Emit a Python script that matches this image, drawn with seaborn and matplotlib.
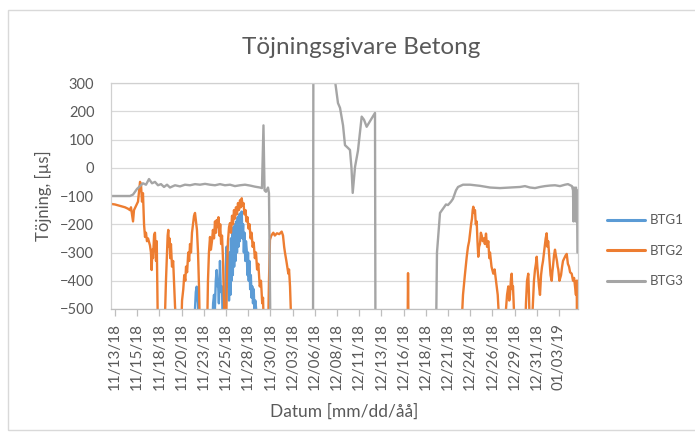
import numpy as np
import pandas as pd
import matplotlib
matplotlib.use("Agg")
import matplotlib.pyplot as plt
from matplotlib.patches import Rectangle
import seaborn as sns

# Measurement start and elapsed time (days) for each strain gauge
start = pd.Timestamp("2018-11-13")

btg1_day = [8.45, 8.78, 9.01, 9.10, 9.20, 9.28, 9.35, 9.46, 10.92, 11.05, 11.15, 11.25,
            11.35, 11.45, 11.55, 11.60, 11.70, 11.82, 11.92, 12.05, 12.16, 12.39, 12.48,
            12.58, 12.66, 12.75, 12.84, 12.92, 13.00, 13.06, 13.13, 13.20, 13.27, 13.34,
            13.42, 13.50, 13.58, 13.66, 13.74, 13.82, 13.90, 13.98, 14.06, 14.14, 14.22,
            14.27, 14.35, 14.43, 14.51, 14.59, 14.67, 14.75, 14.83, 14.91, 14.98, 15.06,
            15.14, 15.22, 15.30, 15.38, 15.46, 15.54, 15.62, 15.70, 15.80, 15.96, 16.10]
btg1_val = [-600, -600, -500, -440, -421, -460, -480, -600, -600, -480, -450, -500,
            -400, -362, -420, -400, -480, -330, -440, -420, -600, -500, -350,
            -279, -420, -320, -470, -300, -450, -250, -400, -230, -380, -210,
            -350, -200, -330, -190, -300, -175, -280, -165, -260, -160, -230,
            -155, -250, -200, -300, -230, -330, -260, -290, -380, -300, -400,
            -330, -430, -380, -460, -420, -480, -430, -500, -470, -520, -600]

btg2_day = [-0.45, 0.00, 0.56, 1.13, 1.46, 1.69, 1.80, 2.03, 2.14, 2.36, 2.59, 2.82, 2.93,
            3.04, 3.15, 3.27, 3.38, 3.49, 3.60, 3.72, 3.94, 4.05, 4.13, 4.20, 4.28, 4.40,
            4.50, 4.56, 4.62, 4.70, 4.84, 5.07,
            5.52, 5.63, 5.74, 5.86, 5.93, 6.00, 6.08, 6.14, 6.22, 6.30, 6.42, 6.55, 6.76,
            6.98, 7.32,
            7.43, 7.55, 7.69, 7.80, 7.92, 8.00, 8.12, 8.25, 8.35, 8.45, 8.56, 8.67, 8.78,
            8.90, 9.01, 9.12, 9.23, 9.35, 9.46, 9.57, 10.14,
            10.36, 10.47, 10.58, 10.70, 10.80, 10.92, 11.03, 11.15, 11.26, 11.37, 11.45,
            11.55, 11.65, 11.75, 11.85, 11.95, 12.05, 12.16, 12.25, 12.39,
            12.50, 12.61, 12.72, 12.84, 12.95, 13.06, 13.18, 13.29, 13.40, 13.51, 13.62,
            13.74, 13.85, 13.96, 14.08, 14.17, 14.27, 14.37, 14.47, 14.58, 14.70, 14.80,
            14.92, 15.03, 15.15, 15.27, 15.38, 15.50, 15.62, 15.75, 15.88, 16.00, 16.14,
            16.30, 16.44, 16.58, 16.67, 16.78, 17.23, 17.34, 17.45, 17.60, 17.83, 18.00,
            18.24, 18.50, 18.77, 18.92, 19.05, 19.14, 19.30, 19.52, 19.60, 19.71, 19.90,
            32.94, 33.00, 33.06,
            38.96, 39.19, 39.40, 39.61, 39.75, 39.88, 39.98, 40.10, 40.20, 40.28, 40.35,
            40.45, 40.54, 40.63, 40.73, 40.82, 40.91, 41.00, 41.10, 41.20, 41.30, 41.40,
            41.55, 41.65, 41.78, 41.90, 42.04, 42.15, 42.23, 42.40, 42.60, 42.75, 42.91,
            43.10, 43.36,
            43.92, 44.03, 44.15, 44.29, 44.40, 44.48, 44.60, 44.67, 44.75, 44.82, 45.05,
            46.17, 46.28, 46.40, 46.54, 46.62, 46.73, 46.96, 47.10, 47.18, 47.30, 47.40,
            47.49, 47.56, 47.64, 47.75, 47.86, 47.98, 48.09, 48.20, 48.31, 48.42, 48.50,
            48.61, 48.70, 48.78, 48.87, 48.95, 49.05, 49.18, 49.25, 49.32, 49.44, 49.55,
            49.65, 49.77, 49.85, 49.92, 50.05, 50.23, 50.35, 50.45, 50.60, 50.75, 50.87,
            51.00, 51.13, 51.25, 51.43, 51.58, 51.70, 51.80, 51.91, 51.97, 52.03, 52.08,
            52.14]
btg2_val = [-128, -130, -135, -140, -145, -150, -140, -190, -150, -135, -120, -50, -60,
            -120, -90, -200, -245, -230, -260, -250, -275, -300, -362, -290, -320, -240,
            -230, -280, -330, -260, -600, -600,
            -600, -520, -400, -300, -240, -220, -280, -250, -320, -270, -350, -330, -490,
            -600, -600,
            -600, -470, -430, -380, -400, -350, -370, -300, -330, -270, -300, -230, -200,
            -170, -160, -190, -220, -300, -420, -600, -600,
            -600, -400, -300, -245, -290, -260, -220, -250, -190, -230, -185,
            -210, -175, -240, -200, -270, -240, -320, -450, -600,
            -600, -380, -260, -210, -196, -230, -170, -200, -150, -180, -140,
            -165, -125, -150, -115, -140, -108, -135, -125, -165, -150, -190,
            -175, -215, -200, -250, -230, -280, -265, -320, -300, -360, -340,
            -420, -400, -480, -460, -600, -600, -400, -255, -240, -230, -240,
            -232, -235, -226, -240, -280, -300, -330, -375, -360, -420, -600,
            -600, -373, -600,
            -600, -450, -380, -315, -280, -260, -232, -200, -180, -150, -138,
            -160, -150, -200, -190, -260, -315, -280, -270, -230, -240, -260,
            -250, -270, -233, -280, -260, -320, -300, -350, -375, -360, -400,
            -450, -600,
            -600, -500, -450, -420, -470, -450, -390, -375, -430, -420, -600,
            -600, -480, -400, -375, -450, -600, -550, -450, -400, -360, -340,
            -315, -350, -380, -420, -450, -380, -350, -330, -300, -270, -250,
            -232, -280, -260, -300, -340, -380, -400, -370, -350, -310, -290,
            -310, -330, -350, -360, -400, -380, -350, -330, -320, -310, -305,
            -340, -350, -370, -375, -400, -390, -420, -450, -400, -500, -400,
            -600]

btg3_day = [-0.45, 1.69, 2.03, 2.48, 2.82, 3.15, 3.49, 3.83, 4.17, 4.50, 4.84, 5.18, 5.52,
            5.86, 6.19, 6.76, 7.32, 7.88, 8.45, 9.01, 9.57, 10.14, 10.70, 11.26, 11.82,
            12.39, 12.95, 13.51, 14.08, 14.64, 15.20, 15.77, 16.33, 16.55, 16.72, 16.84,
            17.00, 17.23, 17.34, 17.51, 22.30, 22.35, 24.77, 25.11, 25.34, 25.68, 25.90,
            26.24, 26.46, 26.63, 26.77, 27.03, 27.36, 27.78, 28.04, 28.34, 28.72, 29.28,
            29.33, 36.15, 36.26, 36.60, 37.05, 37.27, 37.50, 37.84, 38.06, 38.40, 38.63,
            39.19, 39.98, 41.10, 42.23, 43.36, 44.48, 45.61, 46.17, 46.73, 47.30, 47.86,
            48.42, 48.99, 49.55, 50.11, 50.68, 51.01, 51.46, 51.58, 51.63, 51.69, 51.75,
            51.80, 51.86, 51.91, 51.97, 52.03, 52.08]
btg3_val = [-100, -100, -95, -75, -65, -55, -60, -40, -55, -50, -62, -58, -68,
            -60, -70, -62, -66, -60, -62, -58, -60, -57, -60, -62, -58,
            -62, -60, -65, -62, -60, -63, -67, -70, -72, 150, -80,
            -85, -70, -90, -600, -600, 600, 310, 229, 212, 150, 80,
            70, 63, 0, -89, 3, 60, 181, 170, 145, 165, 194,
            -600, -600, -300, -160, -140, -130, -132, -120, -110, -80, -68,
            -60, -60, -64, -70, -72, -70, -68, -65, -70, -72, -68,
            -65, -63, -62, -65, -60, -58, -65, -80, -190, -70, -180,
            -100, -190, -70, -160, -80, -300]

series_names = ["BTG1", "BTG2", "BTG3"]
series_colors = ["#5B9BD5", "#ED7D31", "#A5A5A5"]

tick_labels = ["11/13/18", "11/15/18", "11/18/18", "11/20/18", "11/23/18", "11/25/18",
               "11/28/18", "11/30/18", "12/03/18", "12/06/18", "12/08/18", "12/11/18",
               "12/13/18", "12/16/18", "12/18/18", "12/21/18", "12/24/18", "12/26/18",
               "12/29/18", "12/31/18", "01/03/19"]
tick_step_days = 2.5

frames = []
for name, d, v in [("BTG1", btg1_day, btg1_val),
                   ("BTG2", btg2_day, btg2_val),
                   ("BTG3", btg3_day, btg3_val)]:
    frames.append(pd.DataFrame({
        "Datum": start + pd.to_timedelta(d, unit="D"),
        "Töjning": v,
        "Givare": name,
    }))
df = pd.concat(frames, ignore_index=True)

sns.set_theme(style="white")
plt.rcParams["font.family"] = ["Lato", "DejaVu Sans"]
text_color = "#595959"

fig = plt.figure(figsize=(6.95, 4.33), dpi=100)
ax = fig.add_axes([111 / 695, 1 - 309 / 433, 467 / 695, 226 / 433])

# chart area border
fig.patches.append(Rectangle((8 / 695, 1 - 430 / 433), 1.0, 420 / 433,
                             transform=fig.transFigure, fill=False,
                             edgecolor="#D9D9D9", linewidth=1.0))

sns.lineplot(data=df, x="Datum", y="Töjning", hue="Givare", hue_order=series_names,
             palette=series_colors, estimator=None, sort=False, linewidth=1.7,
             ax=ax)

ax.set_ylim(-500, 300)
ax.set_yticks(np.arange(-500, 301, 100))
ax.set_xlim(start - pd.Timedelta(days=0.45), start + pd.Timedelta(days=52.14))
tick_pos = [start + pd.Timedelta(days=k * tick_step_days) for k in range(len(tick_labels))]
ax.set_xticks(tick_pos)
ax.set_xticklabels(tick_labels, rotation=90)

ax.yaxis.grid(True, color="#D9D9D9", linewidth=0.9)
ax.xaxis.grid(False)
for s in ax.spines.values():
    s.set_color("#D0D0D0")
    s.set_linewidth(0.9)
ax.spines["bottom"].set_color("#BFBFBF")

ax.tick_params(axis="x", bottom=True, length=5, width=0.9, color="#BFBFBF",
               labelsize=11, labelcolor=text_color, pad=5)
ax.tick_params(axis="y", left=False, labelsize=10.5, labelcolor=text_color, pad=6)

fig.text(361 / 695, 1 - 47 / 433, "Töjningsgivare Betong", fontsize=17.5,
         color=text_color, ha="center", va="center")
ax.set_xlabel("Datum [mm/dd/åå]", fontsize=12.5, color=text_color, labelpad=10)
ax.set_ylabel("Töjning, [µs]", fontsize=12, color=text_color, labelpad=6)

handles, labels = ax.get_legend_handles_labels()
leg = ax.legend(handles, labels, loc="center left", bbox_to_anchor=(1.051, 0.257),
                frameon=False, fontsize=9.5, handlelength=2.9, labelspacing=1.4,
                handletextpad=0.3, borderaxespad=0)
for t in leg.get_texts():
    t.set_color(text_color)
for line in leg.get_lines():
    line.set_linewidth(2.2)

fig.savefig("out.png", dpi=100, facecolor="white")
